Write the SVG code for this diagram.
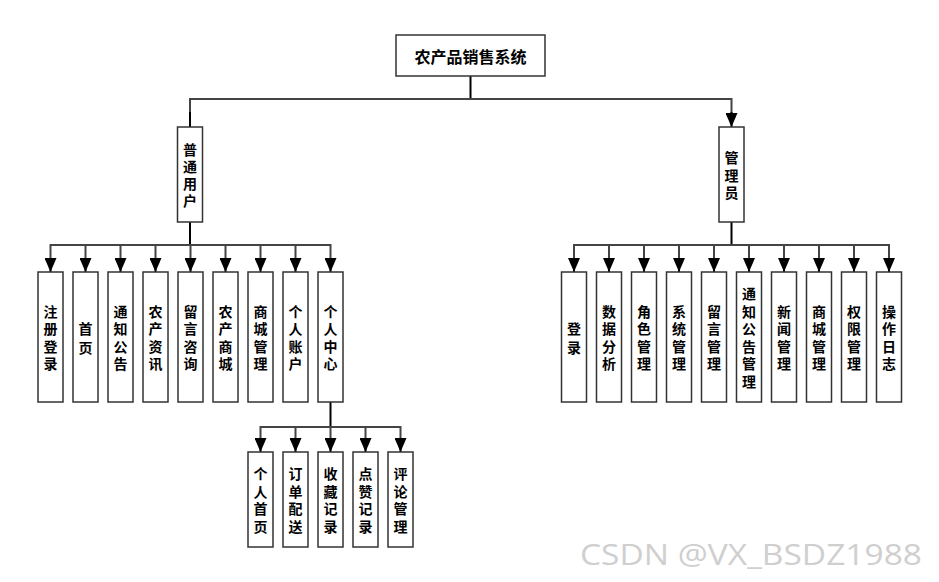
<svg xmlns="http://www.w3.org/2000/svg" width="939" height="582" viewBox="0 0 939 582">
<defs>
<style>
.box{fill:#fff;stroke:#333;stroke-width:1.5}
.t{font-family:"Noto Sans CJK SC","Noto Sans CJK JP",sans-serif;font-weight:bold;font-size:14px;fill:#000;text-anchor:middle;dominant-baseline:central}
.title{font-size:16px}
.bus{fill:none;stroke:#444;stroke-width:2}
.stem{fill:none;stroke:#000;stroke-width:2}
.wm{font-family:"Open Sans","Noto Sans",sans-serif;font-size:29px;fill:#cfcfcf}
</style>
<marker id="ah" viewBox="0 0 14 12" markerWidth="14" markerHeight="12" refX="14" refY="6" orient="auto" markerUnits="userSpaceOnUse">
<path d="M0,0 L14,6 L0,12 Z" fill="#000"/>
</marker>
</defs>
<rect width="939" height="582" fill="#fff"/>
<g id="connectors">
<path class="stem" d="M470.5,76 V99"/>
<path class="bus" d="M190,113 V99 H731.5 V113"/>
<path d="M190,112 V127 M731.5,112 V127" class="stem" marker-end="url(#ah)"/>
<path class="stem" d="M190,222 V245 M731.5,222 V245 M330.5,402 V427"/>
<path class="bus" d="M50.5,259 V245 H330.5 V259 M85.5,245 V259 M120.5,245 V259 M155.5,245 V259 M190.5,245 V259 M225.5,245 V259 M260.5,245 V259 M295.5,245 V259"/>
<path class="bus" d="M574,259 V245 H889 V259 M609,245 V259 M644,245 V259 M679,245 V259 M714,245 V259 M749,245 V259 M784,245 V259 M819,245 V259 M854,245 V259"/>
<path class="bus" d="M260.5,441 V427 H400.5 V441 M295.5,427 V441 M330.5,427 V441 M365.5,427 V441"/>
<g class="stem" marker-end="url(#ah)">
<path d="M50.5,258 V272"/><path d="M85.5,258 V272"/><path d="M120.5,258 V272"/><path d="M155.5,258 V272"/><path d="M190.5,258 V272"/><path d="M225.5,258 V272"/><path d="M260.5,258 V272"/><path d="M295.5,258 V272"/><path d="M330.5,258 V272"/>
<path d="M574,258 V272"/><path d="M609,258 V272"/><path d="M644,258 V272"/><path d="M679,258 V272"/><path d="M714,258 V272"/><path d="M749,258 V272"/><path d="M784,258 V272"/><path d="M819,258 V272"/><path d="M854,258 V272"/><path d="M889,258 V272"/>
<path d="M260.5,440 V452"/><path d="M295.5,440 V452"/><path d="M330.5,440 V452"/><path d="M365.5,440 V452"/><path d="M400.5,440 V452"/>
</g>
</g>
<g id="root"><rect class="box" x="396" y="35" width="149" height="41"/><text class="t title" x="470.5" y="55.5">农产品销售系统</text></g>
<g id="user"><rect class="box" x="177.5" y="127" width="25" height="95"/><text class="t" x="190" y="148.5"><tspan x="190">普</tspan><tspan x="190" dy="17">通</tspan><tspan x="190" dy="17">用</tspan><tspan x="190" dy="17">户</tspan></text></g>
<g id="admin"><rect class="box" x="719" y="127" width="25" height="95"/><text class="t" x="731.5" y="157"><tspan x="731.5">管</tspan><tspan x="731.5" dy="17.5">理</tspan><tspan x="731.5" dy="17.5">员</tspan></text></g>

<g id="u1"><rect class="box" x="38" y="272" width="25" height="130"/><text class="t" y="310.75"><tspan x="50.5">注</tspan><tspan x="50.5" dy="17.5">册</tspan><tspan x="50.5" dy="17.5">登</tspan><tspan x="50.5" dy="17.5">录</tspan></text></g>
<g id="u2"><rect class="box" x="73" y="272" width="25" height="130"/><text class="t" y="327.5"><tspan x="85.5">首</tspan><tspan x="85.5" dy="19">页</tspan></text></g>
<g id="u3"><rect class="box" x="108" y="272" width="25" height="130"/><text class="t" y="310.75"><tspan x="120.5">通</tspan><tspan x="120.5" dy="17.5">知</tspan><tspan x="120.5" dy="17.5">公</tspan><tspan x="120.5" dy="17.5">告</tspan></text></g>
<g id="u4"><rect class="box" x="143" y="272" width="25" height="130"/><text class="t" y="310.75"><tspan x="155.5">农</tspan><tspan x="155.5" dy="17.5">产</tspan><tspan x="155.5" dy="17.5">资</tspan><tspan x="155.5" dy="17.5">讯</tspan></text></g>
<g id="u5"><rect class="box" x="178" y="272" width="25" height="130"/><text class="t" y="310.75"><tspan x="190.5">留</tspan><tspan x="190.5" dy="17.5">言</tspan><tspan x="190.5" dy="17.5">咨</tspan><tspan x="190.5" dy="17.5">询</tspan></text></g>
<g id="u6"><rect class="box" x="213" y="272" width="25" height="130"/><text class="t" y="310.75"><tspan x="225.5">农</tspan><tspan x="225.5" dy="17.5">产</tspan><tspan x="225.5" dy="17.5">商</tspan><tspan x="225.5" dy="17.5">城</tspan></text></g>
<g id="u7"><rect class="box" x="248" y="272" width="25" height="130"/><text class="t" y="310.75"><tspan x="260.5">商</tspan><tspan x="260.5" dy="17.5">城</tspan><tspan x="260.5" dy="17.5">管</tspan><tspan x="260.5" dy="17.5">理</tspan></text></g>
<g id="u8"><rect class="box" x="283" y="272" width="25" height="130"/><text class="t" y="310.75"><tspan x="295.5">个</tspan><tspan x="295.5" dy="17.5">人</tspan><tspan x="295.5" dy="17.5">账</tspan><tspan x="295.5" dy="17.5">户</tspan></text></g>
<g id="u9"><rect class="box" x="318" y="272" width="25" height="130"/><text class="t" y="310.75"><tspan x="330.5">个</tspan><tspan x="330.5" dy="17.5">人</tspan><tspan x="330.5" dy="17.5">中</tspan><tspan x="330.5" dy="17.5">心</tspan></text></g>

<g id="a1"><rect class="box" x="561.5" y="272" width="25" height="130"/><text class="t" y="327.5"><tspan x="574">登</tspan><tspan x="574" dy="19">录</tspan></text></g>
<g id="a2"><rect class="box" x="596.5" y="272" width="25" height="130"/><text class="t" y="310.75"><tspan x="609">数</tspan><tspan x="609" dy="17.5">据</tspan><tspan x="609" dy="17.5">分</tspan><tspan x="609" dy="17.5">析</tspan></text></g>
<g id="a3"><rect class="box" x="631.5" y="272" width="25" height="130"/><text class="t" y="310.75"><tspan x="644">角</tspan><tspan x="644" dy="17.5">色</tspan><tspan x="644" dy="17.5">管</tspan><tspan x="644" dy="17.5">理</tspan></text></g>
<g id="a4"><rect class="box" x="666.5" y="272" width="25" height="130"/><text class="t" y="310.75"><tspan x="679">系</tspan><tspan x="679" dy="17.5">统</tspan><tspan x="679" dy="17.5">管</tspan><tspan x="679" dy="17.5">理</tspan></text></g>
<g id="a5"><rect class="box" x="701.5" y="272" width="25" height="130"/><text class="t" y="310.75"><tspan x="714">留</tspan><tspan x="714" dy="17.5">言</tspan><tspan x="714" dy="17.5">管</tspan><tspan x="714" dy="17.5">理</tspan></text></g>
<g id="a6"><rect class="box" x="736.5" y="272" width="25" height="130"/><text class="t" y="293.25"><tspan x="749">通</tspan><tspan x="749" dy="17.5">知</tspan><tspan x="749" dy="17.5">公</tspan><tspan x="749" dy="17.5">告</tspan><tspan x="749" dy="17.5">管</tspan><tspan x="749" dy="17.5">理</tspan></text></g>
<g id="a7"><rect class="box" x="771.5" y="272" width="25" height="130"/><text class="t" y="310.75"><tspan x="784">新</tspan><tspan x="784" dy="17.5">闻</tspan><tspan x="784" dy="17.5">管</tspan><tspan x="784" dy="17.5">理</tspan></text></g>
<g id="a8"><rect class="box" x="806.5" y="272" width="25" height="130"/><text class="t" y="310.75"><tspan x="819">商</tspan><tspan x="819" dy="17.5">城</tspan><tspan x="819" dy="17.5">管</tspan><tspan x="819" dy="17.5">理</tspan></text></g>
<g id="a9"><rect class="box" x="841.5" y="272" width="25" height="130"/><text class="t" y="310.75"><tspan x="854">权</tspan><tspan x="854" dy="17.5">限</tspan><tspan x="854" dy="17.5">管</tspan><tspan x="854" dy="17.5">理</tspan></text></g>
<g id="a10"><rect class="box" x="876.5" y="272" width="25" height="130"/><text class="t" y="310.75"><tspan x="889">操</tspan><tspan x="889" dy="17.5">作</tspan><tspan x="889" dy="17.5">日</tspan><tspan x="889" dy="17.5">志</tspan></text></g>

<g id="s1"><rect class="box" x="248" y="452" width="25" height="95"/><text class="t" y="473.25"><tspan x="260.5">个</tspan><tspan x="260.5" dy="17.5">人</tspan><tspan x="260.5" dy="17.5">首</tspan><tspan x="260.5" dy="17.5">页</tspan></text></g>
<g id="s2"><rect class="box" x="283" y="452" width="25" height="95"/><text class="t" y="473.25"><tspan x="295.5">订</tspan><tspan x="295.5" dy="17.5">单</tspan><tspan x="295.5" dy="17.5">配</tspan><tspan x="295.5" dy="17.5">送</tspan></text></g>
<g id="s3"><rect class="box" x="318" y="452" width="25" height="95"/><text class="t" y="473.25"><tspan x="330.5">收</tspan><tspan x="330.5" dy="17.5">藏</tspan><tspan x="330.5" dy="17.5">记</tspan><tspan x="330.5" dy="17.5">录</tspan></text></g>
<g id="s4"><rect class="box" x="353" y="452" width="25" height="95"/><text class="t" y="473.25"><tspan x="365.5">点</tspan><tspan x="365.5" dy="17.5">赞</tspan><tspan x="365.5" dy="17.5">记</tspan><tspan x="365.5" dy="17.5">录</tspan></text></g>
<g id="s5"><rect class="box" x="388" y="452" width="25" height="95"/><text class="t" y="473.25"><tspan x="400.5">评</tspan><tspan x="400.5" dy="17.5">论</tspan><tspan x="400.5" dy="17.5">管</tspan><tspan x="400.5" dy="17.5">理</tspan></text></g>

<text class="wm" x="580" y="565" textLength="342" lengthAdjust="spacingAndGlyphs">CSDN @VX_BSDZ1988</text>
</svg>
